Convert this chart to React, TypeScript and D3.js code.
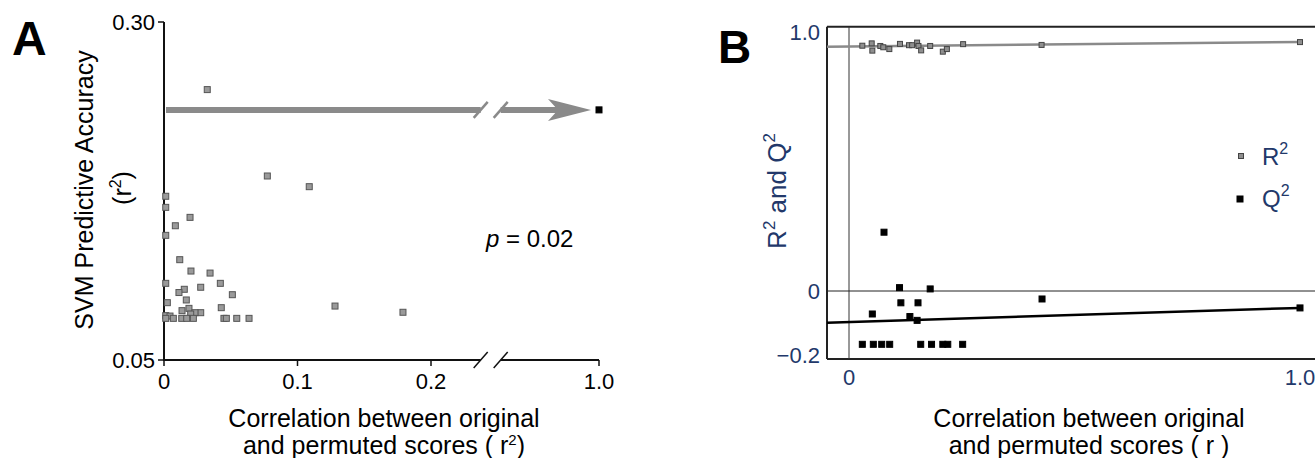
import * as d3 from 'd3'

const FONT = '"Liberation Sans", Arial, Helvetica, sans-serif'
const NAVY = '#22386a'
const W = 1315
const H = 458

// ---- Panel A: permuted r^2 vs SVM accuracy ----
const permR2 = [
  0.0324, 0.0774, 0.1088, 0.0013, 0.0013, 0.0195, 0.0085, 0.0013, 0.0118, 0.0202,
  0.0345, 0.0013, 0.0422, 0.0275, 0.0152, 0.0112, 0.0512, 0.0167, 0.0025, 0.0429,
  0.0187, 0.1281, 0.179, 0.0135, 0.0275, 0.0232, 0.02, 0.0013, 0.0045, 0.0013,
  0.007, 0.0133, 0.017, 0.022, 0.0449, 0.0467, 0.0545, 0.0637,
]
const permAcc = [
  0.25, 0.1861, 0.1782, 0.1711, 0.1629, 0.1555, 0.1493, 0.1422, 0.1242, 0.1158,
  0.1143, 0.1067, 0.1067, 0.1038, 0.1023, 0.0999, 0.0983, 0.0944, 0.0924, 0.0887,
  0.0882, 0.0899, 0.0853, 0.0865, 0.085, 0.085, 0.084, 0.0828, 0.0825, 0.0808,
  0.0808, 0.0808, 0.0808, 0.0808, 0.0808, 0.0808, 0.0808, 0.0808,
]
const origR2 = 1.0
const origAcc = 0.235
const pValue = '0.02'
const xTicksA = [0, 0.1, 0.2, 1.0]
const xTickLabelsA = ['0', '0.1', '0.2', '1.0']
const yTicksA = [0.05, 0.3]
const yTickLabelsA = ['0.05', '0.30']

// ---- Panel B: R2 / Q2 permutation plot ----
const r2Corr = [
  0.0295, 0.0503, 0.0517, 0.0694, 0.076, 0.0894, 0.113, 0.133, 0.14, 0.151,
  0.154, 0.16, 0.18, 0.208, 0.217, 0.253, 0.427, 1.0,
]
const r2Vals = [
  0.947, 0.956, 0.928, 0.946, 0.941, 0.934, 0.954, 0.949, 0.949, 0.959,
  0.946, 0.929, 0.946, 0.924, 0.934, 0.953, 0.95, 0.961,
]
const q2Corr = [
  0.0776, 0.112, 0.18, 0.0517, 0.115, 0.153, 0.135, 0.151, 0.428, 0.0295,
  0.0539, 0.0725, 0.0902, 0.159, 0.183, 0.208, 0.219, 0.252, 1.0,
]
const q2Vals = [
  0.227, 0.013, 0.008, -0.072, -0.037, -0.037, -0.08, -0.092, -0.025, -0.167,
  -0.167, -0.167, -0.167, -0.167, -0.167, -0.167, -0.167, -0.167, -0.053,
]
const r2Fit = [0.944, 0.017] // intercept, slope
const q2Fit = [-0.097, 0.044]
const yTicksB = [1.0, 0, -0.2]
const yTickLabelsB = ['1.0', '0', '\u22120.2']
const xTicksB = [0, 1.0]
const xTickLabelsB = ['0', '1.0']

function Square({ x, y, s, fill, stroke }: { x: number; y: number; s: number; fill: string; stroke: string }) {
  return <rect x={x - s / 2} y={y - s / 2} width={s} height={s} fill={fill} stroke={stroke} strokeWidth={1} />
}

function Slash({ cx, cy, color, w }: { cx: number; cy: number; color: string; w: number }) {
  return <line x1={cx - 7} y1={cy + 8} x2={cx + 7} y2={cy - 8} stroke={color} strokeWidth={w} />
}

function PanelA() {
  const x = d3.scaleLinear().domain([0, 0.24, 0.25, 1.0]).range([164, 484.4, 497, 599])
  const y = d3.scaleLinear().domain([0.05, 0.3]).range([360, 22])
  const y0 = y(0.05)
  const brk = (x(0.24) + x(0.25)) / 2
  const ay = y(origAcc)
  const tip = x(origR2) - 8
  const arrowHead = d3.line()([
    [tip, ay],
    [tip - 43, ay - 11],
    [tip - 33, ay],
    [tip - 43, ay + 11],
  ]) + 'Z'

  return (
    <g fontFamily={FONT}>
      <text x={12} y={55} fontSize={48} fontWeight={700}>A</text>

      {/* arrow to the original model */}
      <line x1={x(0) + 2} y1={ay} x2={brk - 10} y2={ay} stroke="#8a8a8a" strokeWidth={6} />
      <line x1={brk + 10} y1={ay} x2={tip - 33} y2={ay} stroke="#8a8a8a" strokeWidth={6} />
      <path d={arrowHead} fill="#8a8a8a" />
      <Slash cx={brk - 10} cy={ay} color="#8a8a8a" w={2.5} />
      <Slash cx={brk + 10} cy={ay} color="#8a8a8a" w={2.5} />

      {/* axes */}
      <line x1={x(0)} y1={y(0.3)} x2={x(0)} y2={y0 + 1} stroke="#111" strokeWidth={2} />
      <line x1={x(0)} y1={y0} x2={brk - 10} y2={y0} stroke="#111" strokeWidth={2} />
      <line x1={brk + 10} y1={y0} x2={x(1.0)} y2={y0} stroke="#111" strokeWidth={2} />
      <Slash cx={brk - 10} cy={y0} color="#111" w={1.5} />
      <Slash cx={brk + 10} cy={y0} color="#111" w={1.5} />
      {xTicksA.map((t, i) => (
        <g key={'xt' + i}>
          <line x1={x(t)} y1={y0} x2={x(t)} y2={y0 + 6} stroke="#111" strokeWidth={1.5} />
          <text x={x(t)} y={389} fontSize={22} textAnchor="middle">{xTickLabelsA[i]}</text>
        </g>
      ))}
      {yTicksA.map((t, i) => (
        <g key={'yt' + i}>
          <line x1={x(0) - 6} y1={y(t)} x2={x(0)} y2={y(t)} stroke="#111" strokeWidth={1.5} />
          <text x={155} y={y(t)} dy="0.36em" fontSize={22} textAnchor="end">{yTickLabelsA[i]}</text>
        </g>
      ))}

      {permR2.map((r, i) => (
        <Square key={'p' + i} x={x(r)} y={y(permAcc[i])} s={6} fill="#9a9a9a" stroke="#555" />
      ))}
      <Square x={x(origR2)} y={y(origAcc)} s={6} fill="#000" stroke="#000" />

      <text x={486} y={247} fontSize={24}>
        <tspan fontStyle="italic">p</tspan> = {pValue}
      </text>

      <text transform="translate(93,190) rotate(-90)" fontSize={25} textAnchor="middle">SVM Predictive Accuracy</text>
      <text transform="translate(131,188) rotate(-90)" fontSize={25} textAnchor="middle">
        (r<tspan fontSize={16} dy={-10}>2</tspan><tspan dy={10}>)</tspan>
      </text>

      <text x={384} y={427} fontSize={25} textAnchor="middle">Correlation between original</text>
      <text x={384} y={454} fontSize={25} textAnchor="middle">
        and permuted scores ( r<tspan fontSize={15} dy={-9}>2</tspan><tspan dy={9}>)</tspan>
      </text>
    </g>
  )
}

function PanelB() {
  const x = d3.scaleLinear().domain([-0.0488, 1.0]).range([827, 1300])
  const y = d3.scaleLinear().domain([-0.213, 0, 1.02]).range([359, 291, 26.8])
  const left = x(-0.0488)
  const top = y(1.02)
  const bottom = y(-0.213)
  const fitLine = (c: number[]) =>
    d3.line<number>().x((r) => x(r)).y((r) => y(c[0] + c[1] * r))([-0.0488, 1.0])

  return (
    <g fontFamily={FONT}>
      <text x={718} y={63} fontSize={46} fontWeight={700}>B</text>

      <line x1={left} y1={top} x2={left} y2={bottom} stroke="#222" strokeWidth={2} />
      <line x1={left} y1={top} x2={W} y2={top} stroke="#222" strokeWidth={2} />
      <line x1={left} y1={bottom} x2={W} y2={bottom} stroke="#222" strokeWidth={2} />
      <line x1={x(0)} y1={top} x2={x(0)} y2={bottom} stroke="#333" strokeWidth={1} />
      <line x1={left} y1={y(0)} x2={W} y2={y(0)} stroke="#222" strokeWidth={1} />

      {yTicksB.map((t, i) => (
        <text key={'yb' + i} x={820} y={y(t)} dy="0.36em" fontSize={22} textAnchor="end" fill={NAVY}>
          {yTickLabelsB[i]}
        </text>
      ))}
      {xTicksB.map((t, i) => (
        <text key={'xb' + i} x={x(t)} y={385} fontSize={22} textAnchor="middle" fill={NAVY}>
          {xTickLabelsB[i]}
        </text>
      ))}

      <path d={fitLine(r2Fit) ?? ''} stroke="#8a8a8a" strokeWidth={2.5} fill="none" />
      <path d={fitLine(q2Fit) ?? ''} stroke="#000" strokeWidth={2.5} fill="none" />

      {r2Corr.map((r, i) => (
        <Square key={'r' + i} x={x(r)} y={y(r2Vals[i])} s={5} fill="#8f8f8f" stroke="#444" />
      ))}
      {q2Corr.map((r, i) => (
        <Square key={'q' + i} x={x(r)} y={y(q2Vals[i])} s={6} fill="#000" stroke="#000" />
      ))}

      {/* legend */}
      <Square x={1241} y={156} s={5} fill="#8f8f8f" stroke="#444" />
      <text x={1262} y={165} fontSize={24} fill={NAVY}>
        R<tspan fontSize={16} dy={-11}>2</tspan>
      </text>
      <Square x={1240} y={199} s={6} fill="#000" stroke="#000" />
      <text x={1262} y={207} fontSize={24} fill={NAVY}>
        Q<tspan fontSize={16} dy={-11}>2</tspan>
      </text>

      <text transform="translate(786,191) rotate(-90)" fontSize={26} textAnchor="middle" fill={NAVY}>
        R<tspan fontSize={17} dy={-11}>2</tspan><tspan dy={11}> and Q</tspan><tspan fontSize={17} dy={-11}>2</tspan>
      </text>

      <text x={1089} y={427} fontSize={25} textAnchor="middle">Correlation between original</text>
      <text x={1089} y={454} fontSize={25} textAnchor="middle">and permuted scores ( r )</text>
    </g>
  )
}

export default function App() {
  return (
    <svg width={W} height={H} style={{ position: 'absolute', left: 0, top: 0, background: '#fff' }}>
      <rect width={W} height={H} fill="#fff" />
      <PanelA />
      <PanelB />
    </svg>
  )
}
